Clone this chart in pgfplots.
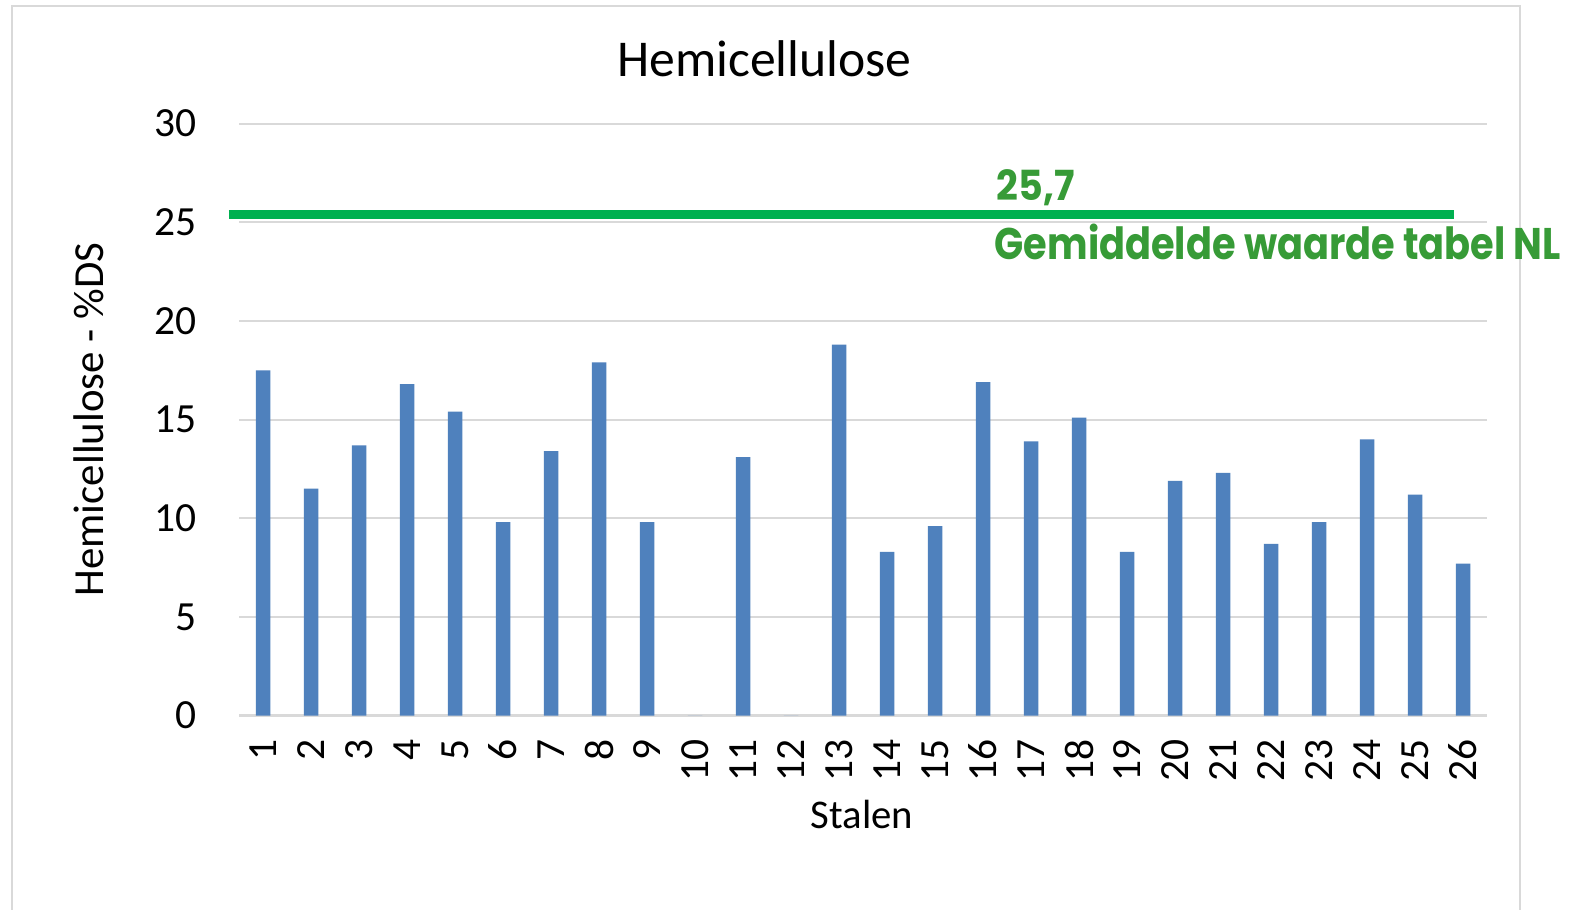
\documentclass[border=0pt]{standalone}
\usepackage{pgfplots}
\pgfplotsset{compat=1.18}
\usepackage{fontspec}
\setmainfont{Carlito}
\newfontfamily\gfont{Poppins}
\definecolor{barblue}{HTML}{4F81BD}
\definecolor{gridgray}{HTML}{D9D9D9}
\definecolor{lgreen}{HTML}{00B050}
\definecolor{tgreen}{HTML}{379B37}
\begin{document}
\begin{tikzpicture}
\clip (0,0) rectangle (157.6mm,90.9mm);
\fill[white] (0,0) rectangle (157.6mm,90.9mm);
\draw[gridgray, line width=0.18mm] (1.2mm,-2mm) -- (1.2mm,90.3mm) -- (152mm,90.3mm) -- (152mm,-2mm);
\begin{axis}[
  at={(23.9mm,19.34mm)}, anchor=south west,
  scale only axis, width=124.8mm, height=59.2mm,
  xmin=0.5, xmax=26.5, ymin=0, ymax=30,
  ytick={0,5,...,30}, xtick={1,...,26},
  ymajorgrids, grid style={gridgray, line width=0.2mm},
  axis x line*=bottom, axis y line*=left,
  x axis line style={gridgray, line width=0.25mm, -},
  y axis line style={draw=none},
  major tick length=0pt,
  /pgf/number format/assume math mode=true,
  tick label style={font=\fontsize{11.8}{12}\selectfont, inner sep=0pt},
  xticklabel style={rotate=90, anchor=east},
  yticklabel style={anchor=east},
  xticklabel shift=2.3mm, yticklabel shift=4.2mm,
  clip=false,
]
\addplot[ybar, bar width=1.45mm, fill=barblue, draw=none] coordinates {
(1,17.5)(2,11.5)(3,13.7)(4,16.8)(5,15.4)(6,9.8)(7,13.4)(8,17.9)(9,9.8)(10,0)
(11,13.1)(12,0)(13,18.8)(14,8.3)(15,9.6)(16,16.9)(17,13.9)(18,15.1)(19,8.3)(20,11.9)
(21,12.3)(22,8.7)(23,9.8)(24,14.0)(25,11.2)(26,7.7)};
\addplot[lgreen, line width=0.9mm, no marks] coordinates {(0.29,25.38)(25.81,25.38)};
\end{axis}
\node[anchor=base, inner sep=0pt, font=\fontsize{14.7}{15}\selectfont] at (76.45mm,83.2mm) {Hemicellulose};
\node[anchor=base, inner sep=0pt, font=\fontsize{11.6}{12}\selectfont] at (86.2mm,8.03mm) {Stalen};
\node[anchor=base, rotate=90, inner sep=0pt, font=\fontsize{12.2}{13}\selectfont] at (10.3mm,48.94mm) {Hemicellulose - \%DS};
\node[anchor=base west, inner sep=0pt, text=tgreen, font=\gfont\bfseries\fontsize{11.8}{12}\selectfont] at (99.6mm,70.8mm) {\scalebox{0.92}[1]{25,7}};
\node[anchor=base west, inner sep=0pt, text=tgreen, font=\gfont\bfseries\fontsize{12.6}{13}\selectfont] at (99.4mm,64.9mm) {\scalebox{0.865}[1]{Gemiddelde waarde tabel NL}};
\end{tikzpicture}
\end{document}
